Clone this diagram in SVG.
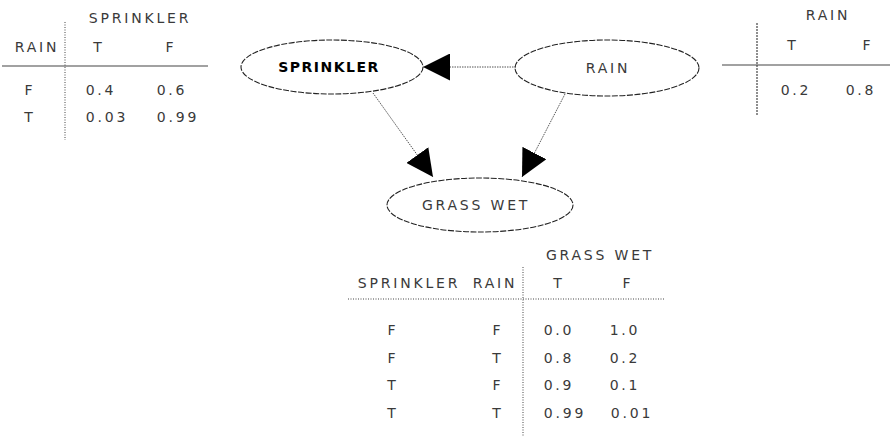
<svg xmlns="http://www.w3.org/2000/svg" width="890" height="439" viewBox="0 0 890 439">
<style>
text{font-family:"DejaVu Sans","Liberation Sans",sans-serif;font-size:14px;fill:#3a3a3a;letter-spacing:2.8px}
.c{text-anchor:middle}
.node{fill:none;stroke:#222;stroke-width:1.1;stroke-dasharray:6 1.5}
.edge{fill:none;stroke:#555;stroke-width:1;stroke-dasharray:1.5 1}
.solid{stroke:#444;stroke-width:1.2}
.dot{stroke:#444;stroke-width:1;stroke-dasharray:1 1.5}
.b{fill:#000;font-weight:bold;letter-spacing:1.5px}
</style>
<defs>
<marker id="ah" viewBox="0 0 10 10" refX="10" refY="5" markerWidth="27" markerHeight="27" markerUnits="userSpaceOnUse" orient="auto">
<path d="M0,0 L10,5 L0,10 Z" fill="#000"/>
</marker>
</defs>
<rect width="890" height="439" fill="#fff"/>

<g id="cpt-sprinkler">
<text class="c" x="140" y="23">SPRINKLER</text>
<text class="c" x="37" y="52">RAIN</text>
<text class="c" x="99" y="52">T</text>
<text class="c" x="171" y="52">F</text>
<line class="solid" x1="2" y1="66" x2="208" y2="66"/>
<line class="dot" x1="65" y1="22" x2="65" y2="140"/>
<text class="c" x="30" y="95">F</text>
<text class="c" x="101" y="95">0.4</text>
<text class="c" x="172" y="95">0.6</text>
<text class="c" x="30" y="122">T</text>
<text class="c" x="107" y="122">0.03</text>
<text class="c" x="178" y="122">0.99</text>
</g>

<g id="cpt-rain">
<text class="c" x="828" y="20">RAIN</text>
<text class="c" x="793" y="50">T</text>
<text class="c" x="868" y="50">F</text>
<line class="solid" x1="722" y1="65" x2="890" y2="65"/>
<line class="solid" x1="757" y1="23" x2="757" y2="115" stroke-dasharray="2 1"/>
<text class="c" x="796" y="95">0.2</text>
<text class="c" x="861" y="95">0.8</text>
</g>

<g id="cpt-grasswet">
<text class="c" x="600" y="260">GRASS WET</text>
<text class="c" x="409" y="288">SPRINKLER</text>
<text class="c" x="495" y="288">RAIN</text>
<text class="c" x="559" y="288">T</text>
<text class="c" x="628" y="288">F</text>
<line class="dot" x1="348" y1="299" x2="665" y2="299"/>
<line class="dot" x1="523" y1="267" x2="523" y2="437"/>
<text class="c" x="393" y="335">F</text><text class="c" x="498" y="335">F</text><text class="c" x="559" y="335">0.0</text><text class="c" x="625" y="335">1.0</text>
<text class="c" x="393" y="363">F</text><text class="c" x="498" y="363">T</text><text class="c" x="559" y="363">0.8</text><text class="c" x="625" y="363">0.2</text>
<text class="c" x="393" y="390">T</text><text class="c" x="498" y="390">F</text><text class="c" x="559" y="390">0.9</text><text class="c" x="625" y="390">0.1</text>
<text class="c" x="393" y="418">T</text><text class="c" x="498" y="418">T</text><text class="c" x="565" y="418">0.99</text><text class="c" x="632" y="418">0.01</text>
</g>

<g id="edges">
<line class="edge" x1="516" y1="67" x2="423" y2="67" marker-end="url(#ah)"/>
<line class="edge" x1="373" y1="93" x2="433" y2="177" marker-end="url(#ah)"/>
<line class="edge" x1="565" y1="94" x2="522" y2="177" marker-end="url(#ah)"/>
</g>

<g id="node-sprinkler">
<ellipse class="node" cx="332" cy="67" rx="91" ry="27"/>
<text class="c b" x="329" y="72">SPRINKLER</text>
</g>
<g id="node-rain">
<ellipse class="node" cx="607" cy="68" rx="92" ry="28"/>
<text class="c" x="608" y="73">RAIN</text>
</g>
<g id="node-grasswet">
<ellipse class="node" cx="480" cy="205" rx="93" ry="27"/>
<text class="c" x="476" y="210">GRASS WET</text>
</g>
</svg>
